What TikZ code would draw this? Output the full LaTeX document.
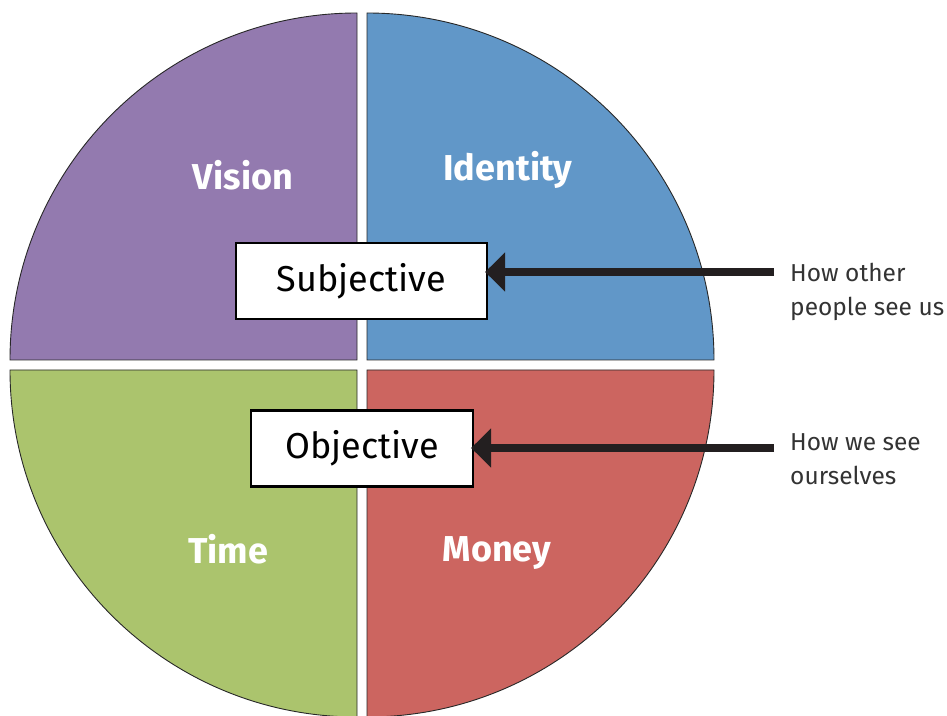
\documentclass[tikz,border=0pt]{standalone}
\usepackage{fontspec}
\setmainfont{Fira Sans}
\usetikzlibrary{arrows.meta}
\definecolor{cpurple}{RGB}{147,122,175}
\definecolor{cblue}{RGB}{97,151,200}
\definecolor{cgreen}{RGB}{171,196,109}
\definecolor{cred}{RGB}{204,101,96}
\definecolor{cedge}{RGB}{40,40,40}
\definecolor{carrow}{RGB}{35,31,32}
\definecolor{ctext}{RGB}{51,51,51}
\tikzset{
  quarter/.style={draw=cedge,line width=0.9pt},
  qlabel/.style={text=white,font=\fontsize{36}{40}\selectfont\bfseries,inner sep=0pt},
  boxlabel/.style={draw=black,line width=2.2pt,fill=white,font=\fontsize{36}{40}\selectfont,inner sep=0pt,minimum height=76pt},
  sidelabel/.style={text=ctext,font=\fontsize{24.5}{34}\selectfont,align=left,inner sep=0pt,anchor=north west},
  pointer/.style={draw=carrow,line width=8pt,-{Triangle[length=20pt,width=38pt]}}
}
\begin{document}
\begin{tikzpicture}[x=1pt,y=1pt]
\useasboundingbox (0,0) rectangle (947,715);
\fill[quarter,fill=cpurple] (357,355) -- ++(-347,0) arc[start angle=180,end angle=90,radius=347] -- cycle;
\fill[quarter,fill=cblue] (367,355) -- ++(0,347) arc[start angle=90,end angle=0,radius=347] -- cycle;
\fill[quarter,fill=cgreen] (357,345) -- ++(-347,0) arc[start angle=180,end angle=270,radius=347] -- cycle;
\fill[quarter,fill=cred] (367,345) -- ++(347,0) arc[start angle=0,end angle=-90,radius=347] -- cycle;
\node[qlabel] (vision) at (243,540) {Vision};
\node[qlabel] (identity) at (508,545) {Identity};
\node[qlabel] (time) at (228,166) {Time};
\node[qlabel] (money) at (497,162) {Money};
\node[boxlabel,minimum width=251pt] (subj) at (361.5,434) {Subjective};
\node[boxlabel,minimum width=222pt] (obj) at (362,266.5) {Objective};
\coordinate (s1) at (774,443);
\coordinate (o1) at (774,267);
\draw[pointer] (s1) -- ([xshift=-3pt]s1 -| subj.east);
\draw[pointer] (o1) -- ([xshift=-3pt]o1 -| obj.east);
\node[sidelabel] (other) at (790,452) {How other\\people see us};
\node[sidelabel] (we) at (790,282) {How we see\\ourselves};
\end{tikzpicture}
\end{document}
